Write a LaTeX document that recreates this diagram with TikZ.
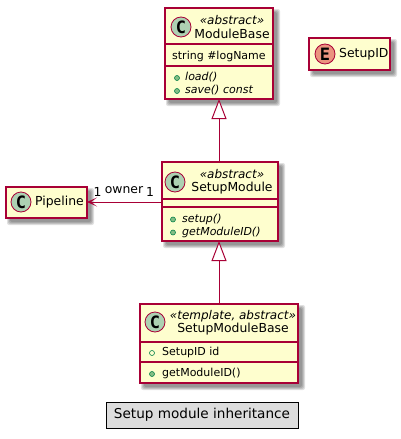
\documentclass[tikz,border=0pt]{standalone}
\usepackage{fontspec}
\setmainfont{DejaVu Sans}
\newfontfamily\glyphfont{DejaVu Sans Mono}
\usetikzlibrary{arrows.meta}
\definecolor{umlline}{HTML}{A80036}
\definecolor{umlfill}{HTML}{FEFECE}
\definecolor{cspot}{HTML}{ADD1B2}
\definecolor{espot}{HTML}{EB937F}
\definecolor{pubfill}{HTML}{84BE84}
\definecolor{publine}{HTML}{038048}
\tikzset{
  umlbox/.style={draw=umlline,fill=umlfill,line width=1.15pt,rectangle,inner sep=0pt,outer sep=0pt},
  spot/.style={circle,draw=umlline,line width=.8pt,minimum size=20pt,inner sep=0pt,font=\glyphfont\bfseries\fontsize{17}{17}\selectfont,text=black},
  nametext/.style={inner sep=0pt,font=\fontsize{12.4}{15}\selectfont},
  stereo/.style={inner sep=0pt,font=\itshape\fontsize{12}{14}\selectfont},
  membertext/.style={inner sep=0pt,anchor=west,font=\fontsize{11}{13}\selectfont},
  abstracttext/.style={membertext,font=\itshape\fontsize{11}{13}\selectfont},
  pub/.style={circle,draw=publine,fill=pubfill,line width=.6pt,minimum size=5pt,inner sep=0pt},
  pubopen/.style={pub,fill=umlfill},
  sep/.style={draw=umlline,line width=1.15pt},
  conn/.style={draw=umlline,line width=1pt},
  inherit/.style={conn,-{Triangle[open,length=20pt,width=15pt,fill=white]}},
  assoc/.style={conn,-{Stealth[length=10pt,width=9pt,inset=6pt]}},
  rellabel/.style={inner sep=0pt,font=\fontsize{12.4}{14}\selectfont},
}
\newcommand{\boxshadow}[4]{%
  \foreach \g in {3,2,1,0}{%
    \fill[black,opacity=.12,rounded corners=2pt] (#1+4-\g,#2+4-\g) rectangle (#3+4+\g,#4+4+\g);}%
}
\begin{document}
\begin{tikzpicture}[x=1pt,y=-1pt]
\useasboundingbox (0,0) rectangle (401,439);
\fill[white] (0,0) rectangle (401,439);
% shadows
\boxshadow{165}{8}{273}{99}
\boxshadow{162}{162}{278}{241}
\boxshadow{6}{187}{87}{218}
\boxshadow{140}{304}{298}{383}
\boxshadow{309}{38}{390}{70}
% class boxes
\node[umlbox,minimum width=108pt,minimum height=91pt] (mb) at (219,53.5) {};
\node[umlbox,minimum width=116pt,minimum height=79pt] (sm) at (220,201.5) {};
\node[umlbox,minimum width=81pt,minimum height=31pt] (pl) at (46.5,202.5) {};
\node[umlbox,minimum width=158pt,minimum height=79pt] (smb) at (219,343.5) {};
\node[umlbox,minimum width=81pt,minimum height=32pt] (sid) at (349.5,54) {};
% separators
\draw[sep] (mb.west |- 0,44) -- (mb.east |- 0,44);
\draw[sep] (mb.west |- 0,66) -- (mb.east |- 0,66);
\draw[sep] (sm.west |- 0,199) -- (sm.east |- 0,199);
\draw[sep] (sm.west |- 0,207) -- (sm.east |- 0,207);
\draw[sep] (smb.west |- 0,342) -- (smb.east |- 0,342);
\draw[sep] (smb.west |- 0,362) -- (smb.east |- 0,362);
% spots
\node[spot,fill=cspot] (mbc) at (181,27) {C};
\node[spot,fill=cspot] (smc) at (175,182) {C};
\node[spot,fill=cspot] (plc) at (21,202) {C};
\node[spot,fill=cspot] (smbc) at (155,322) {C};
\node[spot,fill=espot] (sidc) at (325,54) {E};
% ModuleBase text
\node[stereo] (mbs) at (232,20) {«abstract»};
\node[nametext] (mbn) at (232,33.5) {ModuleBase};
\node[membertext] (mbm1) at (172,56) {string \#logName};
\node[pub] (mbi2) at (177,78) {};
\node[abstracttext] (mbm2) at (185,77) {load()};
\node[pub] (mbi3) at (177,91) {};
\node[abstracttext] (mbm3) at (185,90.5) {save() const};
% SetupModule text
\node[stereo] (sms) at (232,174) {«abstract»};
\node[nametext] (smn) at (232,188) {SetupModule};
\node[pub] (smi1) at (173,219.5) {};
\node[abstracttext] (smm1) at (182,219) {setup()};
\node[pub] (smi2) at (173,232.5) {};
\node[abstracttext] (smm2) at (182,232) {getModuleID()};
% Pipeline and SetupID text
\node[nametext,anchor=west] (pln) at (35,202) {Pipeline};
\node[nametext,anchor=west] (sidn) at (339,54) {SetupID};
% SetupModuleBase text
\node[stereo] (smbs) at (233,316) {«template, abstract»};
\node[nametext] (smbn) at (233,329) {SetupModuleBase};
\node[pubopen] (smbi1) at (152,353) {};
\node[membertext] (smbm1) at (162,352.5) {SetupID id};
\node[pub] (smbi2) at (152,374) {};
\node[membertext] (smbm2) at (162,373) {getModuleID()};
% connectors
\draw[inherit] (sm.north -| 219,0) -- (mb.south -| 219,0);
\draw[inherit] (smb.north -| 219,0) -- (sm.south -| 219,0);
\draw[assoc] (sm.west |- 0,202) -- (pl.east |- 0,202);
\node[rellabel] (l1) at (97.5,192) {1};
\node[rellabel] (lo) at (124,190.5) {owner};
\node[rellabel] (l2) at (150,192) {1};
% title
\node[draw=black,fill=black!13.5,line width=1pt,inner sep=0pt,minimum width=192pt,minimum height=26pt,font=\fontsize{13.6}{15}\selectfont] (title) at (202,415) {Setup module inheritance};
\end{tikzpicture}
\end{document}
